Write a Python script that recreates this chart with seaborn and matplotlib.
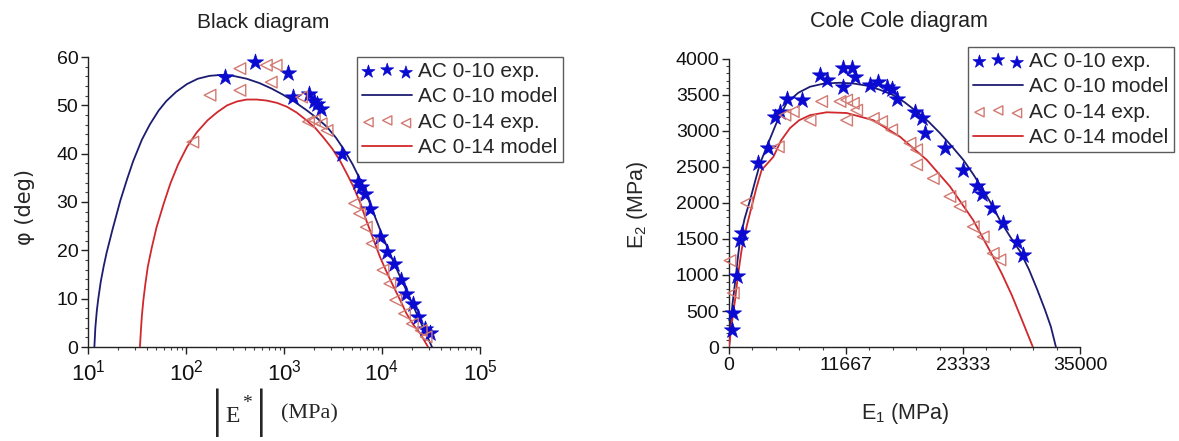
import numpy as np
import pandas as pd
import matplotlib
matplotlib.use("Agg")
import matplotlib.pyplot as plt
from matplotlib.ticker import LogLocator, LogFormatterMathtext, MultipleLocator, FixedLocator
import seaborn as sns

# Black diagram: log10 |E*| (MPa) and phase angle (deg)
blk_010_exp_logE = [2.40, 2.70, 3.04, 3.09, 3.26, 3.31, 3.34, 3.38, 3.59, 3.76, 3.79, 3.83,
                    3.88, 3.98, 4.05, 4.12, 4.19, 4.25, 4.32, 4.37, 4.44, 4.49]
blk_010_exp_phi = [55.9, 59.0, 56.6, 51.7, 52.4, 51.0, 50.3, 49.3, 40.0, 34.1, 33.1, 31.7,
                   28.6, 22.8, 19.7, 17.2, 13.8, 11.0, 9.0, 6.2, 3.8, 2.8]
blk_010_mod_logE = [1.065, 1.075, 1.09, 1.105, 1.13, 1.16, 1.19, 1.25, 1.33, 1.40, 1.46,
                    1.55, 1.63, 1.72, 1.80, 1.90, 2.01, 2.12, 2.24, 2.36, 2.48, 2.62, 2.75,
                    2.87, 2.99, 3.11, 3.23, 3.34, 3.44, 3.53, 3.61, 3.70, 3.78, 3.85, 3.91,
                    3.98, 4.05, 4.12, 4.19, 4.26, 4.32, 4.37, 4.42, 4.47, 4.51]
blk_010_mod_phi = [0.0, 4.0, 7.5, 10.0, 13.5, 16.7, 19.5, 24.3, 30.3, 34.8, 38.4,
                   42.9, 46.0, 48.9, 50.9, 52.8, 54.4, 55.5, 56.1, 56.3, 56.1, 55.5, 54.6,
                   53.5, 52.2, 50.7, 49.0, 47.3, 45.5, 43.3, 40.9, 37.8, 34.5, 31.1, 27.9,
                   24.3, 20.8, 17.5, 14.3, 11.2, 8.4, 6.2, 4.0, 1.8, 0.0]
blk_014_exp_logE = [2.07, 2.245, 2.55, 2.55, 2.82, 2.92, 2.87, 3.18, 3.25, 3.31, 3.38, 3.44,
                    3.72, 3.77, 3.84, 3.90, 4.01, 4.08, 4.14, 4.23, 4.31, 4.40, 4.45]
blk_014_exp_phi = [42.4, 52.1, 53.1, 57.6, 58.3, 58.3, 54.8, 51.7, 46.6, 46.9, 46.2, 44.8,
                   29.7, 27.6, 24.8, 21.4, 15.9, 13.1, 9.7, 6.9, 4.8, 3.4, 2.1]
blk_014_mod_logE = [1.53, 1.54, 1.55, 1.565, 1.585, 1.61, 1.65, 1.70, 1.77, 1.84, 1.92,
                    2.01, 2.11, 2.22, 2.32, 2.42, 2.52, 2.62, 2.72, 2.82, 2.93, 3.03, 3.13,
                    3.23, 3.32, 3.40, 3.49, 3.57, 3.64, 3.71, 3.78, 3.84, 3.91, 3.98, 4.05,
                    4.12, 4.19, 4.25, 4.32, 4.39, 4.43, 4.47]
blk_014_mod_phi = [0.0, 3.5, 6.5, 9.7, 13.0, 16.6, 20.5, 24.8, 29.5, 33.8, 37.8,
                   41.4, 44.4, 46.9, 48.6, 50.0, 50.8, 51.2, 51.2, 51.0, 50.5, 49.7, 48.5,
                   46.9, 45.3, 43.4, 41.1, 38.6, 35.9, 33.1, 29.7, 26.2, 22.4, 18.6, 15.4,
                   12.4, 9.5, 6.9, 4.6, 2.8, 1.4, 0.0]

# Cole Cole diagram: E1, E2 (MPa)
cc_010_exp_E1 = [270, 430, 770, 1100, 1260, 2920, 3920, 4590, 5090, 5750, 7250, 9070, 9740,
                 11400, 11400, 12230, 12560, 14060, 14890, 15720, 16220, 16720, 18540, 19210,
                 19540, 21540, 23360, 24690, 25190, 26190, 27350, 28680, 29340]
cc_010_exp_E2 = [235, 470, 980, 1490, 1580, 2550, 2760, 3200, 3270, 3450, 3430, 3780, 3710,
                 3615, 3870, 3870, 3750, 3640, 3685, 3615, 3590, 3450, 3270, 3175,
                 2970, 2760, 2460, 2230, 2130, 1925, 1720, 1460, 1280]
cc_010_mod_E1 = [0, 150, 350, 600, 850, 1100, 1550, 2100, 2600, 3100, 3760, 4700, 5750,
                 6900, 8080, 9500, 11070, 12400, 13730, 15000, 16360, 17500, 18710, 19900,
                 21040, 22200, 23360, 24350, 25350, 26200, 27020, 28000, 29010, 29900,
                 30700, 31500, 32100, 32600]
cc_010_mod_E2 = [0, 300, 600, 890, 1200, 1490, 1780, 2040, 2300, 2550, 2780, 3100, 3390,
                 3530, 3615, 3660, 3670, 3660, 3630, 3575, 3500, 3400, 3270, 3130,
                 2970, 2790, 2600, 2400, 2180, 1975, 1760, 1540, 1330, 1080,
                 810, 520, 280, 0]
cc_014_exp_E1 = [100, 430, 1760, 4920, 5580, 6410, 8080, 9240, 11070, 11730, 12400, 12730,
                 11730, 14390, 15220, 16220, 18050, 18710, 18710, 20370, 22030, 23030, 24360,
                 25350, 26350, 27020]
cc_014_exp_E2 = [1200, 750, 2000, 2780, 3220, 3270, 3150, 3410, 3410, 3430, 3385, 3290,
                 3150, 3175, 3130, 3015, 2830, 2740, 2530, 2340, 2090, 1950, 1670,
                 1530, 1300, 1210]
cc_014_mod_E1 = [0, 250, 600, 900, 1260, 1750, 2260, 2750, 3260, 4420, 5200, 6080, 7000,
                 8080, 9740, 11730, 14390, 17050, 19710, 22030, 24360, 26350, 27200, 28200,
                 29200, 30300]
cc_014_mod_E2 = [0, 300, 650, 1000, 1350, 1670, 1950, 2220, 2460, 2640, 2870, 3040, 3150,
                 3220, 3260, 3250, 3150, 2920, 2600, 2230, 1760, 1250, 1020, 720,
                 380, 0]

labels = ["AC 0-10 exp.", "AC 0-10 model", "AC 0-14 exp.", "AC 0-14 model"]

sns.set_theme(style="white")
plt.rcParams["font.family"] = ["Liberation Sans", "DejaVu Sans"]
plt.rcParams["mathtext.fontset"] = "custom"
plt.rcParams["mathtext.rm"] = "Liberation Sans"

blue_pts = "#0a0ad0"
blue_line = "#1c1c70"
red_pts = "#d27a72"
red_line = "#d0282c"

W, H = 1179, 441
fig = plt.figure(figsize=(W / 100, H / 100), dpi=100)
ax1 = fig.add_axes([88 / W, 1 - 347 / H, 392 / W, 290 / H])
ax2 = fig.add_axes([729 / W, 1 - 347 / H, 351 / W, 288 / H])


def draw(ax, x1, y1, x2, y2, x3, y3, x4, y4):
    sns.lineplot(x=x2, y=y2, color=blue_line, lw=1.3, sort=False, estimator=None,
                 label=labels[1], ax=ax, zorder=3)
    sns.lineplot(x=x4, y=y4, color=red_line, lw=1.3, sort=False, estimator=None,
                 label=labels[3], ax=ax, zorder=3)
    sns.scatterplot(x=x1, y=y1, marker="*", s=150, color=blue_pts, edgecolor=blue_pts,
                    linewidth=0.5, label=labels[0], ax=ax, zorder=4, clip_on=False)
    sns.scatterplot(x=x3, y=y3, marker="<", s=70, facecolor="none", edgecolor=red_pts,
                    linewidth=1.0, label=labels[2], ax=ax, zorder=4, clip_on=False)
    h, l = ax.get_legend_handles_labels()
    order = [l.index(t) for t in labels]
    return [h[i] for i in order]


h1 = draw(ax1,
          10 ** np.array(blk_010_exp_logE), blk_010_exp_phi,
          10 ** np.array(blk_010_mod_logE), blk_010_mod_phi,
          10 ** np.array(blk_014_exp_logE), blk_014_exp_phi,
          10 ** np.array(blk_014_mod_logE), blk_014_mod_phi)
h2 = draw(ax2, cc_010_exp_E1, cc_010_exp_E2, cc_010_mod_E1, cc_010_mod_E2,
          cc_014_exp_E1, cc_014_exp_E2, cc_014_mod_E1, cc_014_mod_E2)

ax1.set_xscale("log")
ax1.set_xlim(10, 1e5)
ax1.set_ylim(0, 60)
ax1.xaxis.set_major_locator(LogLocator(base=10, numticks=10))
ax1.xaxis.set_major_formatter(LogFormatterMathtext())
ax1.xaxis.set_minor_locator(LogLocator(base=10, subs=np.arange(2, 10), numticks=20))
ax1.yaxis.set_major_locator(MultipleLocator(10))
ax1.yaxis.set_minor_locator(MultipleLocator(2))

ax2.set_xlim(0, 35000)
ax2.set_ylim(0, 4000)
ax2.xaxis.set_major_locator(FixedLocator([0, 11667, 23333, 35000]))
ax2.set_xticklabels(["0", "11667", "23333", "35000"])
ax2.xaxis.set_minor_locator(MultipleLocator(35000 / 15))
ax2.yaxis.set_major_locator(MultipleLocator(500))
ax2.yaxis.set_minor_locator(MultipleLocator(100))

for ax in (ax1, ax2):
    ax.set_facecolor("none")
    ax.set_xlabel("")
    ax.set_ylabel("")
    for s in ("top", "right"):
        ax.spines[s].set_visible(False)
    for s in ("left", "bottom"):
        ax.spines[s].set_color("#222222")
        ax.spines[s].set_linewidth(1.0)
    ax.tick_params(which="major", direction="out", length=5, width=1, color="#222222",
                   labelsize=14, labelcolor="#111111", pad=2, bottom=True, left=True)
    ax.tick_params(which="minor", direction="out", length=2.5, width=0.8, color="#444444",
                   bottom=True, left=True)
ax1.tick_params(axis="x", which="major", labelsize=16, pad=4)

leg_kw = dict(loc="upper left", frameon=True, fancybox=False, scatterpoints=3,
              markerscale=0.8, fontsize=15, handlelength=2.4, handletextpad=0.3,
              borderpad=0.25, labelspacing=0.3, borderaxespad=0, edgecolor="#333333",
              bbox_transform=fig.transFigure)
lg1 = ax1.legend(h1, labels, bbox_to_anchor=(357 / W, 1 - 57 / H), **leg_kw)
lg2 = ax2.legend(h2, labels, bbox_to_anchor=(968 / W, 1 - 47 / H), **leg_kw)
for lg in (lg1, lg2):
    lg.get_frame().set_linewidth(1.0)
    lg.set_zorder(10)

fig.text(263 / W, 1 - 23 / H, "Black diagram", ha="center", va="center", fontsize=15,
         color="#222222")
fig.text(899 / W, 1 - 22 / H, "Cole Cole diagram", ha="center", va="center", fontsize=15.5,
         color="#222222")
fig.text(25 / W, 1 - 207 / H, "φ (deg)", ha="center", va="center", rotation=90,
         fontsize=15, family=["DejaVu Sans"])
# |E*| (MPa) label, built from real text pieces
fig.text(217 / W, 1 - 413 / H, "|", ha="center", va="center", fontsize=38,
         family=["Liberation Serif"])
fig.text(233 / W, 1 - 417 / H, "E", ha="center", va="center", fontsize=17,
         family=["Liberation Serif"])
fig.text(247 / W, 1 - 403 / H, "*", ha="center", va="center", fontsize=14,
         family=["Liberation Serif"])
fig.text(261 / W, 1 - 413 / H, "|", ha="center", va="center", fontsize=38,
         family=["Liberation Serif"])
fig.text(309 / W, 1 - 414 / H, "(MPa)", ha="center", va="center", fontsize=16,
         family=["Liberation Serif"])
fig.text(637 / W, 1 - 205 / H, r"E$_2$ (MPa)", ha="center", va="center", rotation=90,
         fontsize=15.5)
fig.text(905 / W, 1 - 413 / H, r"E$_1$ (MPa)", ha="center", va="center", fontsize=15.5)

fig.savefig("out.png", dpi=100, facecolor="white")
